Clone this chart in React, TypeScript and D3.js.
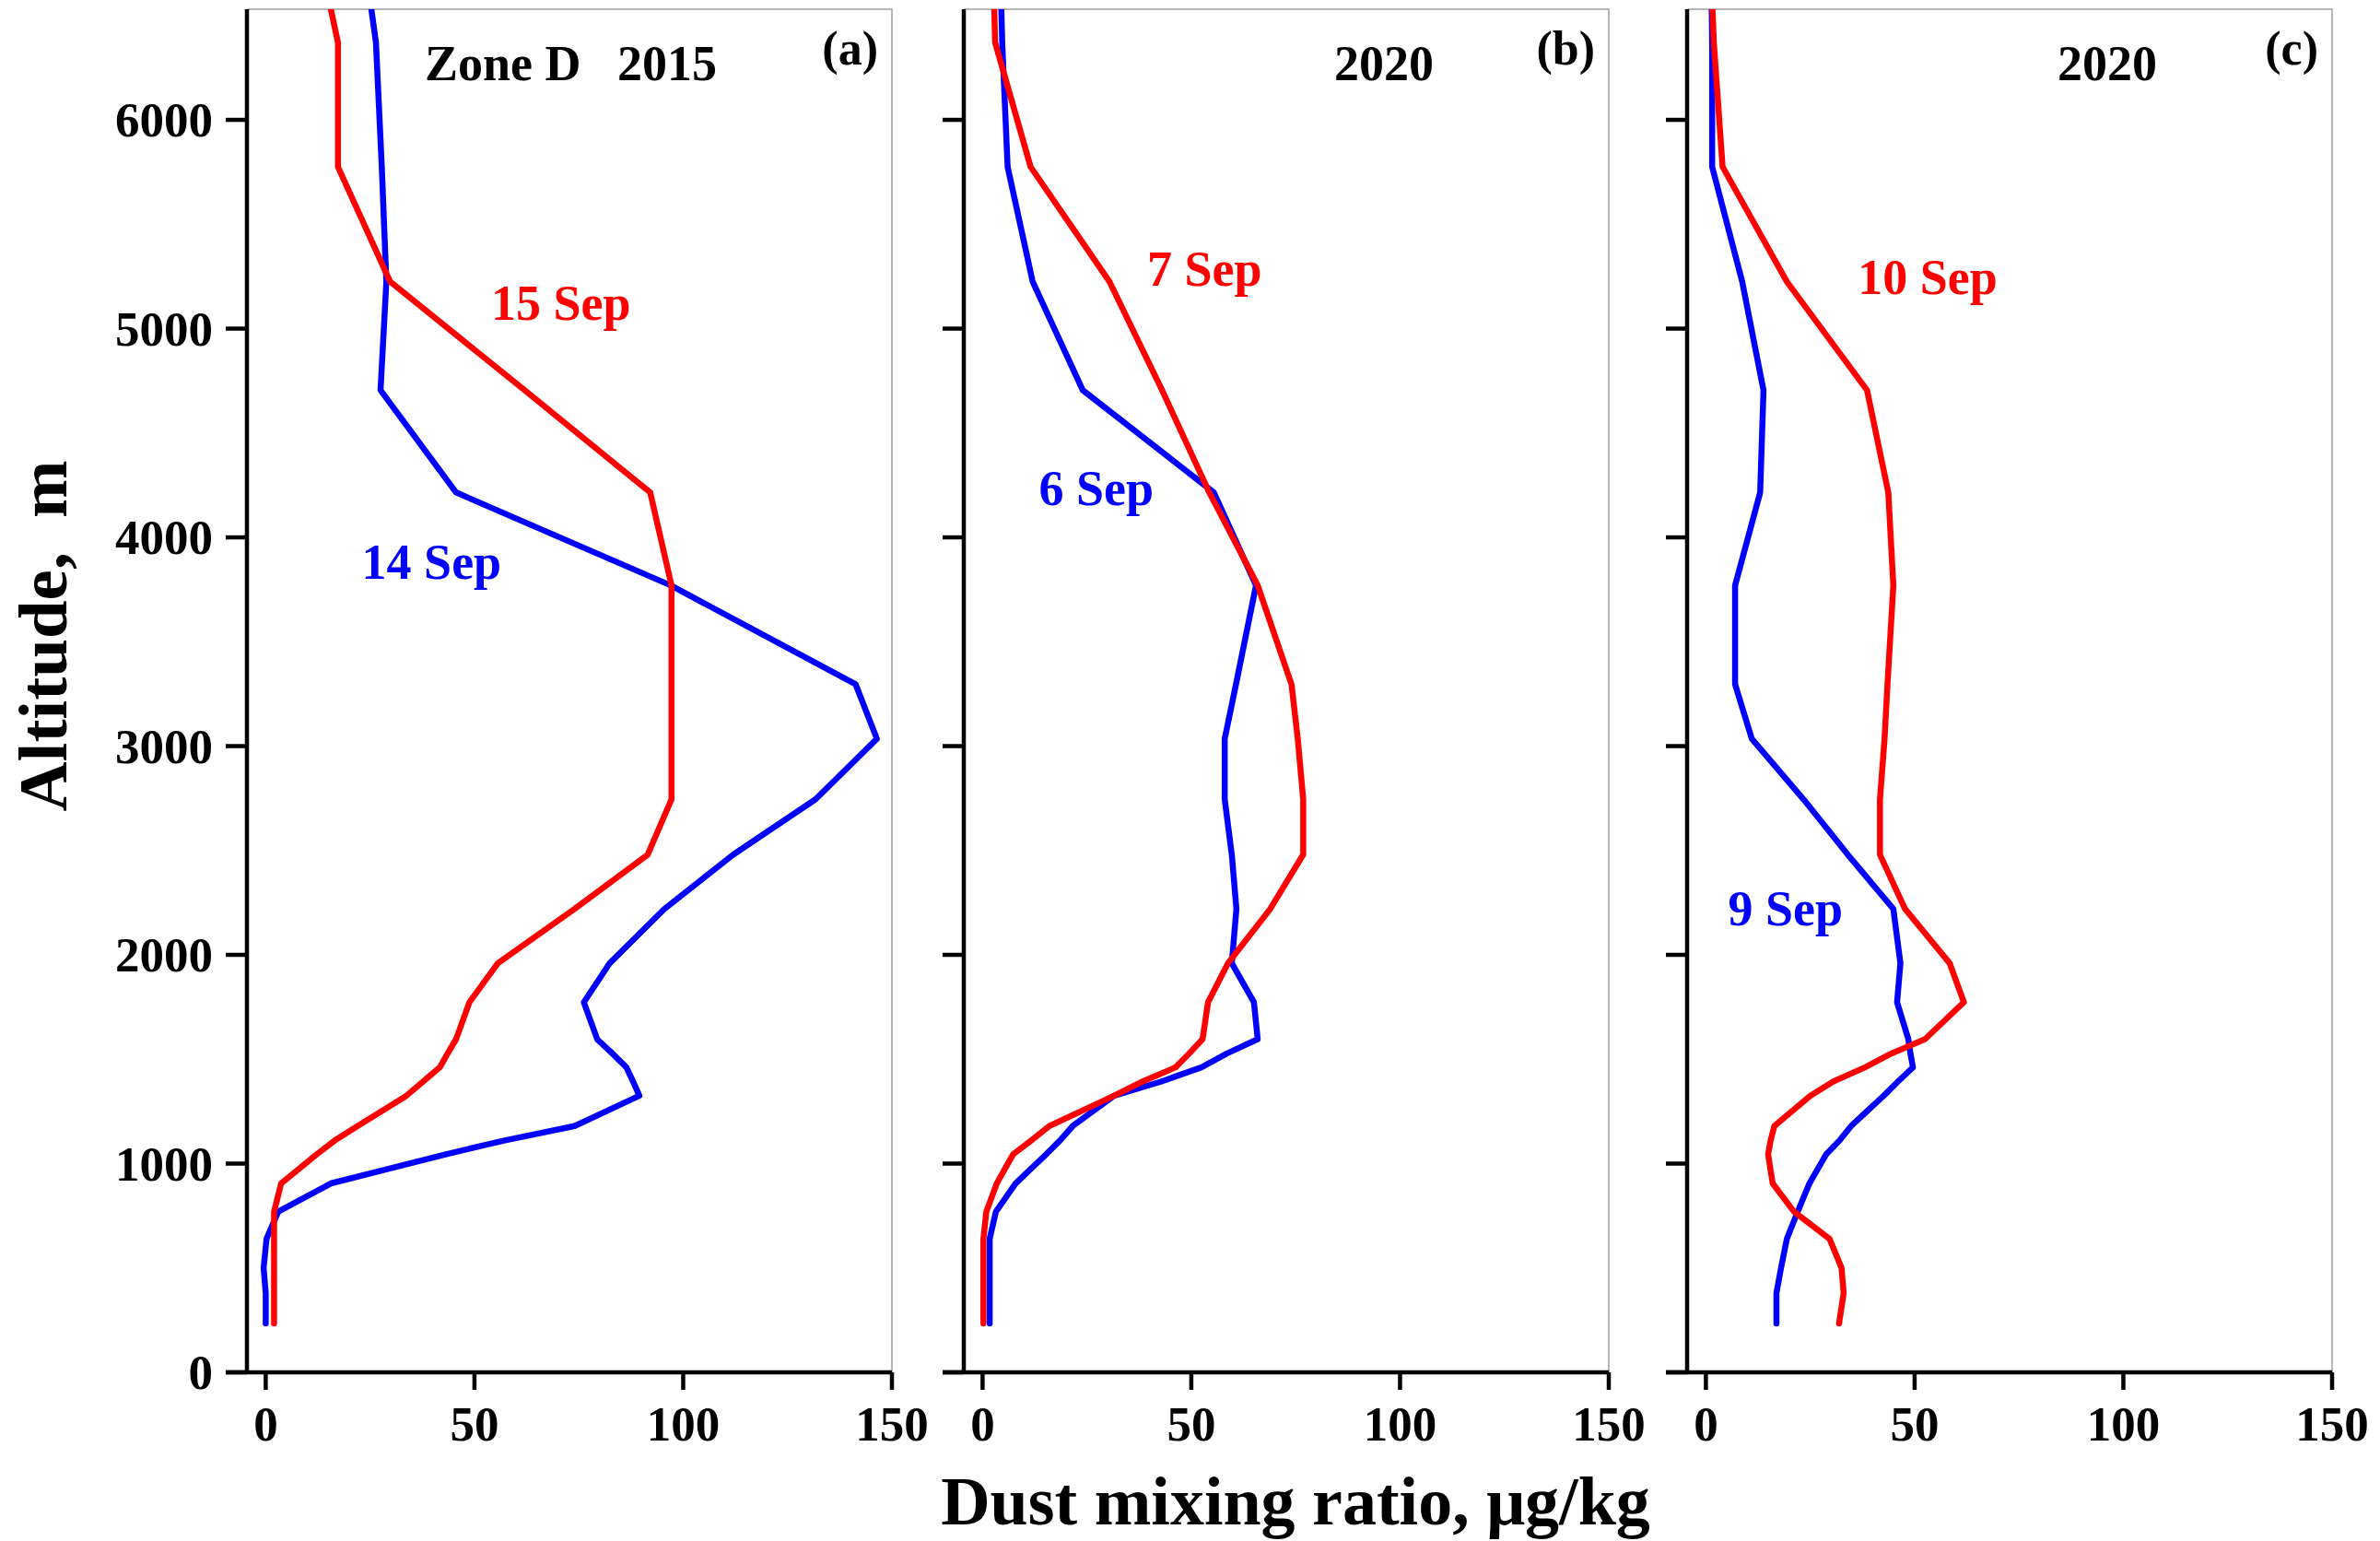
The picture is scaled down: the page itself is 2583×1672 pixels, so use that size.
import React from 'react';
import * as d3 from 'd3';

// model levels (m) shared by all profiles
const altitudeLevels = [234, 380, 500, 640, 770, 905, 1044, 1110, 1180, 1325, 1393, 1461, 1528, 1596, 1773, 1960, 2220, 2480, 2745, 3035, 3296, 3770, 4215, 4705, 5225, 5775, 6371, 6530];

// dust mixing ratio, ug/kg
const sep14_2015 = [0, 0, -0.5, 0.2, 3, 15.6, 43, 57, 74, 89.5, 88, 86.4, 83, 79.4, 76.2, 82.4, 95.5, 112, 131.7, 146.4, 141.3, 97, 45.6, 27.5, 28.9, 27.8, 26.4, 25.3];
const sep15_2015 = [2, 2, 2, 2, 2, 3.7, 12.2, 16.5, 22, 33.7, 37.7, 41.7, 43.6, 45.6, 48.8, 55.6, 74, 91.5, 97.2, 97.2, 97.2, 97.2, 92.1, 62, 29.8, 17.3, 17.3, 15.6];
const sep6_2020 = [1.7, 1.7, 1.7, 1.7, 3.2, 7.9, 15.2, 18.5, 21.6, 31.5, 42.8, 52.4, 58.6, 65.9, 65, 59.7, 60.8, 59.7, 58, 58, 60.7, 65.5, 55.4, 24, 12, 6, 4.7, 4.5];
const sep7_2020 = [0.2, 0.2, 0.2, 0.2, 0.9, 3.4, 7.3, 11.6, 16, 31.5, 38.3, 46.2, 49.5, 52.7, 54, 58.8, 68.9, 76.8, 76.8, 75.5, 74, 65.9, 54.3, 43, 30.4, 11.5, 3, 2.8];
const sep9_2020 = [16.9, 16.9, 18, 19.4, 22, 24.8, 28.8, 32, 34.8, 42.6, 46, 49.6, 49, 48.5, 45.8, 46.6, 44.9, 34, 23.4, 11, 7, 7, 13, 13.8, 8.7, 1.5, 1.5, 1.4];
const sep10_2020 = [31.9, 33, 32.5, 29.6, 21.1, 16, 14.9, 15.5, 16.4, 25, 30.5, 38.1, 44.5, 52.5, 61.8, 58.4, 47.7, 41.7, 41.7, 42.8, 43.5, 44.9, 43.7, 38.6, 19.4, 4, 1.9, 1.6];

const yTicks = [0, 1000, 2000, 3000, 4000, 5000, 6000];
const xTicks = [0, 50, 100, 150];
const panelTags = ['(a)', '(b)', '(c)'];
const panelYears = ['2015', '2020', '2020'];

const W = 2583;
const H = 1672;
const FONT = '"Liberation Serif", "Times New Roman", serif';
const RED = '#ff0000';
const BLUE = '#0000ff';

interface Series {
  name: string;
  values: number[];
  color: string;
  labelAt: [number, number]; // value, altitude of label start/baseline
}

interface Panel {
  left: number;
  blue: Series;
  red: Series;
}

const panels: Panel[] = [
  {
    left: 268,
    blue: { name: '14 Sep', values: sep14_2015, color: BLUE, labelAt: [23, 3800] },
    red: { name: '15 Sep', values: sep15_2015, color: RED, labelAt: [54, 5040] },
  },
  {
    left: 1046,
    blue: { name: '6 Sep', values: sep6_2020, color: BLUE, labelAt: [13.5, 4155] },
    red: { name: '7 Sep', values: sep7_2020, color: RED, labelAt: [39.4, 5205] },
  },
  {
    left: 1831,
    blue: { name: '9 Sep', values: sep9_2020, color: BLUE, labelAt: [5.3, 2143] },
    red: { name: '10 Sep', values: sep10_2020, color: RED, labelAt: [36.4, 5166] },
  },
];

const panelWidth = 700;
const yScale = d3.scaleLinear().domain([0, 6530]).range([1489, 10]);

function ProfilePanel({ panel, index }: { panel: Panel; index: number }) {
  const x = d3.scaleLinear().domain([-4.5, 150]).range([panel.left, panel.left + panelWidth]);
  const [x0, x1] = x.range();
  const [yb, yt] = yScale.range();

  const line = d3
    .line<number>()
    .x((d) => x(d))
    .y((_, i) => yScale(altitudeLevels[i]));

  const clipId = `clip-${index}`;

  return (
    <g>
      <defs>
        <clipPath id={clipId}>
          <rect x={x0} y={yt} width={x1 - x0} height={yb - yt} />
        </clipPath>
      </defs>

      {/* thin frame on top/right */}
      <path d={`M${x0},${yt}H${x1}V${yb}`} fill="none" stroke="#a0a0a0" strokeWidth={1.5} />

      {[panel.blue, panel.red].map((s) => (
        <path
          key={s.name}
          d={line(s.values) ?? ''}
          fill="none"
          stroke={s.color}
          strokeWidth={6.5}
          strokeLinejoin="round"
          strokeLinecap="round"
          clipPath={`url(#${clipId})`}
        />
      ))}

      {/* axes */}
      <line x1={x0} x2={x0} y1={yt} y2={yb} stroke="#000" strokeWidth={4.5} />
      <line x1={x0 - 23} x2={x1} y1={yb} y2={yb} stroke="#000" strokeWidth={4.5} />
      {yTicks.map((t) => (
        <g key={t}>
          <line x1={x0 - 23} x2={x0} y1={yScale(t)} y2={yScale(t)} stroke="#000" strokeWidth={4.5} />
          {index === 0 && (
            <text
              x={x0 - 37}
              y={yScale(t) + 18}
              textAnchor="end"
              fontFamily={FONT}
              fontWeight="bold"
              fontSize={53}
            >
              {t}
            </text>
          )}
        </g>
      ))}
      {xTicks.map((t) => (
        <g key={t}>
          <line x1={x(t)} x2={x(t)} y1={yb} y2={yb + 19} stroke="#000" strokeWidth={4.5} />
          <text x={x(t)} y={1563} textAnchor="middle" fontFamily={FONT} fontWeight="bold" fontSize={53}>
            {t}
          </text>
        </g>
      ))}

      {/* headers */}
      {index === 0 && (
        <text x={x0 + 193} y={87} fontFamily={FONT} fontWeight="bold" fontSize={54}>
          Zone D
        </text>
      )}
      <text x={x0 + 402} y={87} fontFamily={FONT} fontWeight="bold" fontSize={54}>
        {panelYears[index]}
      </text>
      <text x={x1 - 15} y={70} textAnchor="end" fontFamily={FONT} fontWeight="bold" fontSize={52}>
        {panelTags[index]}
      </text>

      {/* series labels */}
      {[panel.blue, panel.red].map((s) => (
        <text
          key={'l' + s.name}
          x={x(s.labelAt[0])}
          y={yScale(s.labelAt[1])}
          fill={s.color}
          fontFamily={FONT}
          fontWeight="bold"
          fontSize={54}
        >
          {s.name}
        </text>
      ))}
    </g>
  );
}

export default function App() {
  return (
    <svg
      width={W}
      height={H}
      viewBox={`0 0 ${W} ${H}`}
      style={{ position: 'absolute', top: 0, left: 0, background: '#fff' }}
    >
      <rect width={W} height={H} fill="#fff" />
      {panels.map((p, i) => (
        <ProfilePanel key={i} panel={p} index={i} />
      ))}
      <text
        transform="translate(72, 690) rotate(-90)"
        textAnchor="middle"
        fontFamily={FONT}
        fontWeight="bold"
        fontSize={75}
      >
        Altitude,{'\u00a0\u00a0'}m
      </text>
      <text x={1406} y={1654} textAnchor="middle" fontFamily={FONT} fontWeight="bold" fontSize={74}>
        Dust mixing ratio, μg/kg
      </text>
    </svg>
  );
}
